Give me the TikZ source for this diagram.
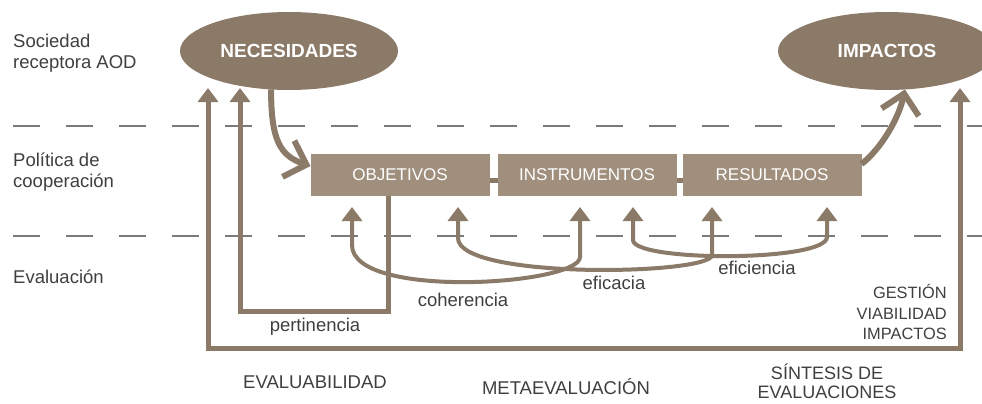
\documentclass[tikz,border=0pt]{standalone}
\usepackage{fontspec}
\setmainfont{Liberation Sans}
\usetikzlibrary{arrows.meta,positioning,shapes.geometric}
\definecolor{taupe}{HTML}{8A7A67}
\definecolor{lighttaupe}{HTML}{A08F7D}
\definecolor{txtgray}{HTML}{3F3F3F}
\definecolor{dashgray}{HTML}{7A7A7A}
\tikzset{need ellipse/.style={ellipse,fill=taupe,text=white,minimum width=218pt,minimum height=78pt,inner sep=0pt,outer sep=0pt,font=\bfseries\fontsize{19}{22}\selectfont}}
\tikzset{policy box/.style={rectangle,fill=lighttaupe,text=white,minimum width=179pt,minimum height=42pt,inner sep=0pt,outer sep=0pt,font=\fontsize{17}{20}\selectfont}}
\tikzset{side label/.style={text=txtgray,inner sep=0pt,align=left,anchor=west,font=\fontsize{18.5}{21}\selectfont}}
\tikzset{eval label/.style={text=txtgray,inner sep=0pt,align=center,font=\fontsize{18.5}{20}\selectfont}}
\tikzset{layer line/.style={dashgray,line width=1.5pt,dash pattern=on 27pt off 26pt}}
\tikzset{flow arrow/.style={taupe,line width=6pt,-{Straight Barb[length=19pt,width=38pt]}}}
\tikzset{loop arrow/.style={taupe,line width=5pt,-{Triangle[length=14pt,width=20pt]}}}
\tikzset{arc arrow/.style={taupe,line width=4pt,{Triangle[length=14pt,width=20pt]}-{Triangle[length=14pt,width=20pt]}}}

\begin{document}
\begin{tikzpicture}[x=1pt,y=1pt]
        \useasboundingbox (0,0) rectangle (982,-404);

        % levels
        \draw [layer line] (13,-126) -- (982,-126);
        \draw [layer line] (13,-236) -- (982,-236);

        \node (soc)	[side label] at	(13,-53)	{Sociedad\\receptora AOD};
        \node (pol)	[side label] at	(13,-172)	{Política de\\cooperación};
        \node (eva)	[side label] at	(13,-277)	{Evaluación};

        \node (nec)	[need ellipse] at	(289,-51)	{NECESIDADES};
        \node (imp)	[need ellipse] at	(887,-51)	{IMPACTOS};

        \node (obj)	[policy box] at	(400,-175)	{OBJETIVOS};
        \node (ins)	[policy box, right = 8pt of obj]	{INSTRUMENTOS};
        \node (res)	[policy box, right = 6pt of ins]	{RESULTADOS};

        \coordinate (pertR)	at	(388,-311);
        \coordinate (pertL)	at	(240,-311);
        \coordinate (synL)	at	(208,-348);
        \coordinate (synR)	at	(960,-348);
        \coordinate (coh1)	at	(352,-207);
        \coordinate (coh2)	at	(580,-207);
        \coordinate (efa1)	at	(458,-207);
        \coordinate (efa2)	at	(712,-207);
        \coordinate (efi1)	at	(633,-207);
        \coordinate (efi2)	at	(827,-207);

        % policy chain
        \draw [taupe,line width=5pt] ([yshift=-5pt]obj.east) -- ([yshift=-5pt]ins.west) ([yshift=-5pt]ins.east) -- ([yshift=-5pt]res.west);
        \draw [flow arrow] (nec.245) .. controls (271,-140) and (280,-156) .. ([yshift=9pt]obj.west);
        \draw [flow arrow] ([yshift=11pt]res.east) .. controls (881,-149) and (899,-118) .. (imp.-65);

        % evaluation
        \draw [loop arrow] (pertR |- obj.south) -- (pertR) -- (pertL) -- ([yshift=2pt]pertL |- nec.south);
        \draw [loop arrow,{Triangle[length=14pt,width=20pt]}-{Triangle[length=14pt,width=20pt]}] ([yshift=2pt]synL |- nec.south) -- (synL) -- (synR) -- ([yshift=2pt]synR |- imp.south);
        \draw [arc arrow] (coh1) -- (352,-245) .. controls (352,-300) and (580,-285) .. (580,-257) -- (coh2);
        \draw [arc arrow] (efa1) -- (458,-238) .. controls (458,-280) and (712,-275) .. (712,-255) -- (efa2);
        \draw [arc arrow] (efi1) -- (633,-240) .. controls (633,-262) and (827,-262) .. (827,-237) -- (efi2);

        \node (per)	[eval label] at	(315,-327)	{pertinencia};
        \node (coh)	[eval label] at	(463,-300)	{coherencia};
        \node (efa)	[eval label] at	(614,-283)	{eficacia};
        \node (efi)	[eval label] at	(757,-268)	{eficiencia};
        \node (gvi)	[eval label,align=right,anchor=east,font=\fontsize{16.4}{20.5}\selectfont] at	(947,-312)	{GESTIÓN\\VIABILIDAD\\IMPACTOS};

        \node (evb)	[eval label] at	(315,-382)	{EVALUABILIDAD};
        \node (met)	[eval label] at	(566,-387)	{METAEVALUACIÓN};
        \node (sin)	[eval label,font=\fontsize{18}{19}\selectfont] at	(827,-381)	{SÍNTESIS DE\\EVALUACIONES};
\end{tikzpicture}
\end{document}
